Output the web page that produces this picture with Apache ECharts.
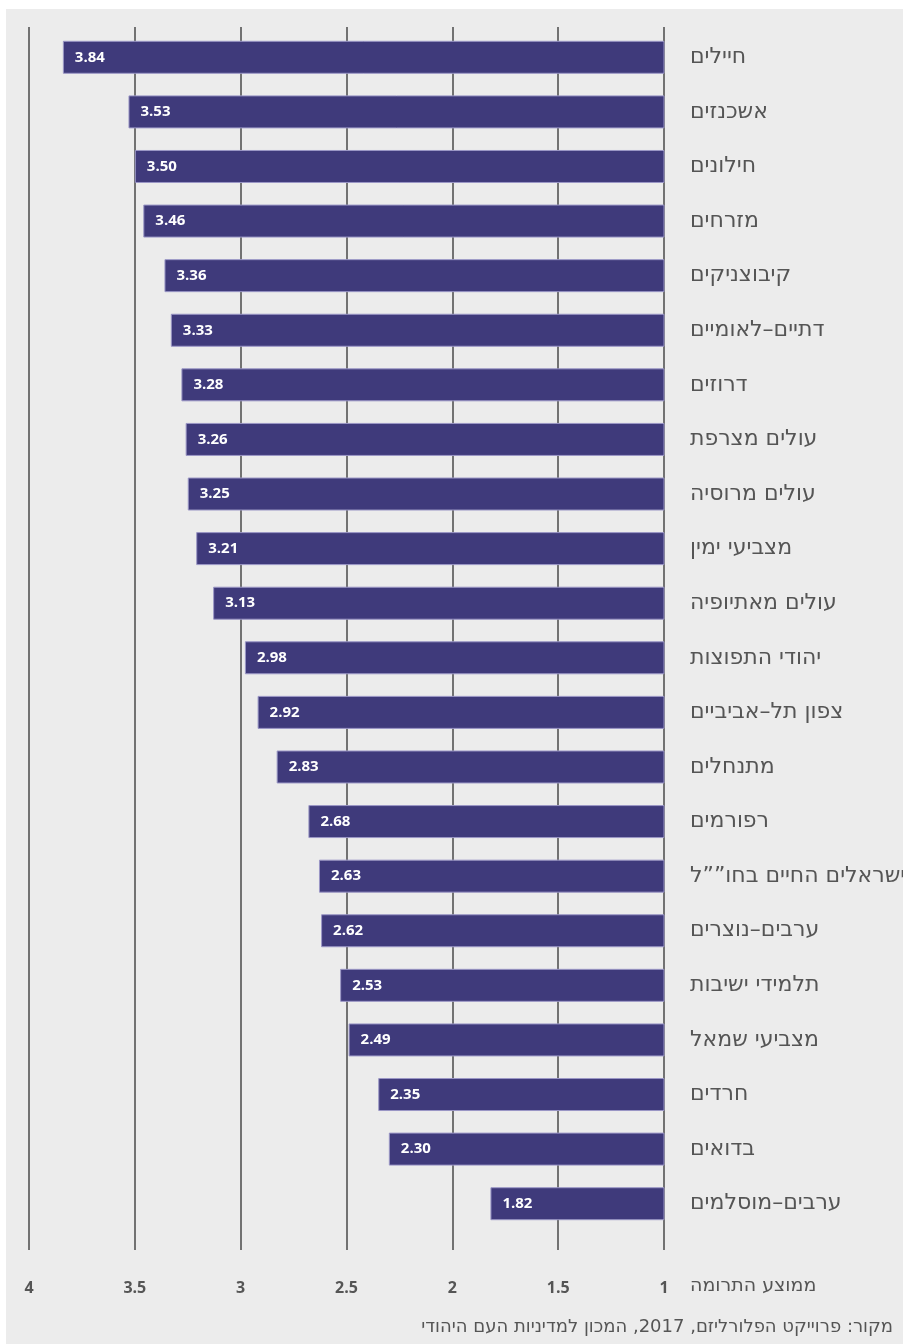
<!DOCTYPE html>
<html>
<head>
<meta charset="utf-8">
<script src="https://cdn.jsdelivr.net/npm/echarts@6/dist/echarts.min.js"></script>
<style>
  html, body { margin: 0; padding: 0; background: #fff; }
  #chart { width: 903px; height: 1344px; }
</style>
</head>
<body>
<div id="chart"></div>
<script>
const categories = [
  "חיילים", "אשכנזים", "חילונים", "מזרחים", "קיבוצניקים", "דתיים–לאומיים",
  "דרוזים", "עולים מצרפת", "עולים מרוסיה", "מצביעי ימין", "עולים מאתיופיה",
  "יהודי התפוצות", "צפון תל–אביביים", "מתנחלים", "רפורמים", "ישראלים החיים בחו””ל",
  "ערבים–נוצרים", "תלמידי ישיבות", "מצביעי שמאל", "חרדים", "בדואים", "ערבים–מוסלמים"
];
const values = [
  3.84, 3.53, 3.50, 3.46, 3.36, 3.33, 3.28, 3.26, 3.25, 3.21, 3.13,
  2.98, 2.92, 2.83, 2.68, 2.63, 2.62, 2.53, 2.49, 2.35, 2.30, 1.82
];
const axisMin = 1;
const axisMax = 4;
const axisStep = 0.5;
const axisTitle = "ממוצע התרומה";
const sourceText = "מקור: פרוייקט הפלורליזם, 2017, המכון למדיניות העם היהודי";

const font = "'Open Sans', 'DejaVu Sans', sans-serif";
const hebFont = "'DejaVu Sans', sans-serif";
var myChart = echarts.init(document.getElementById("chart"));

var option = {
  animation: false,
  textStyle: { fontFamily: font },
  graphic: [
    // gray panel
    { type: "rect", z: -10, shape: { x: 6, y: 9, width: 897, height: 1335 }, style: { fill: "#ececec" } },
    { type: "text", left: 690, top: 1277, style: { text: axisTitle, font: "19px " + hebFont, fill: "#555" } },
    { type: "text", right: 10, top: 1318, style: { text: sourceText, font: "18px " + hebFont, fill: "#555" } }
  ],
  grid: [
    // bars
    { left: 29, right: 239, top: 30, height: 1201, outerBoundsMode: "none" },
    // grid lines + bottom ticks
    { left: 29, right: 239, top: 27, height: 1223, outerBoundsMode: "none" }
  ],
  xAxis: [
    {
      gridIndex: 0, type: "value", min: axisMin, max: axisMax, interval: axisStep, inverse: true,
      axisLine: { show: false }, axisTick: { show: false }, axisLabel: { show: false }, splitLine: { show: false }
    },
    {
      gridIndex: 1, type: "value", min: axisMin, max: axisMax, interval: axisStep, inverse: true,
      axisLine: { show: false }, axisTick: { show: false },
      axisLabel: { margin: 30, fontSize: 16, fontWeight: "bold", color: "#555" },
      splitLine: { show: true, lineStyle: { color: "#727272", width: 2 } }
    }
  ],
  yAxis: [
    {
      gridIndex: 0, type: "category", data: categories, inverse: true, position: "right",
      axisLine: { show: false }, axisTick: { show: false },
      axisLabel: { align: "left", margin: 26, fontSize: 22, fontFamily: hebFont, color: "#555", padding: [0, 0, 4, 0] }
    },
    { gridIndex: 1, type: "category", data: [""], show: false }
  ],
  series: [
    {
      type: "bar",
      xAxisIndex: 0,
      yAxisIndex: 0,
      data: values,
      clip: true,
      barWidth: 33,
      itemStyle: { color: "#3f3a7b", borderColor: "#9b97c6", borderWidth: 1 },
      label: {
        show: true,
        position: "insideLeft",
        distance: 12,
        color: "#fff",
        fontSize: 15,
        fontWeight: "bold",
        formatter: function (p) { return p.value.toFixed(2); }
      }
    }
  ]
};

myChart.setOption(option);
</script>
</body>
</html>
